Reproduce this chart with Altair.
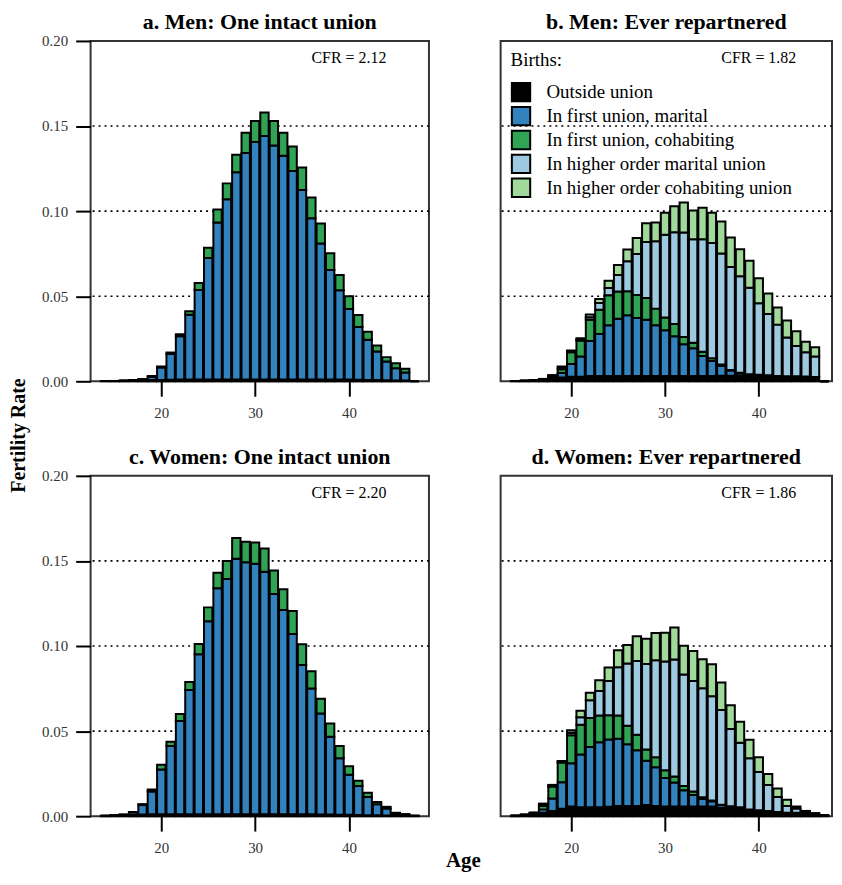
import altair as alt
import pandas as pd

SERIF = "Liberation Serif"

ages = list(range(14, 48))
categories = [
    "Outside union",
    "In first union, marital",
    "In first union, cohabiting",
    "In higher order marital union",
    "In higher order cohabiting union",
]
colors = ["#000000", "#3182bd", "#31a354", "#9ecae1", "#a1d99b"]
panel_titles = [
    "a. Men: One intact union",
    "b. Men: Ever repartnered",
    "c. Women: One intact union",
    "d. Women: Ever repartnered",
]
cfr_labels = ["CFR = 2.12", "CFR = 1.82", "CFR = 2.20", "CFR = 1.86"]
y_ticks = [0.0, 0.05, 0.10, 0.15, 0.20]
grid_levels = [0.05, 0.10, 0.15]
x_ticks = [20, 30, 40]

# ---- a. Men: one intact union (ages 14..47)
men_intact_outside = [0.0001, 0.0002, 0.0003, 0.0004, 0.0005, 0.0007, 0.0008, 0.0009, 0.001, 0.001,
                      0.001, 0.001, 0.001, 0.001, 0.001, 0.001, 0.001, 0.001, 0.001, 0.001,
                      0.001, 0.001, 0.001, 0.001, 0.001, 0.001, 0.001, 0.0009, 0.0008, 0.0007,
                      0.0006, 0.0005, 0.0005, 0.0]
men_intact_first_marital = [0.0, 0.0, 0.0001, 0.0003, 0.0006, 0.002, 0.0073, 0.0152, 0.0254, 0.0381,
                            0.0527, 0.0715, 0.0923, 0.106, 0.1219, 0.1331, 0.1396, 0.1431, 0.1376, 0.1316,
                            0.1226, 0.1114, 0.0948, 0.0799, 0.0644, 0.0525, 0.0415, 0.031, 0.0236, 0.0168,
                            0.011, 0.0071, 0.0046, 0.0]
men_intact_first_cohab = [0.0, 0.0, 0.0, 0.0001, 0.0002, 0.0004, 0.0006, 0.0008, 0.0012, 0.002,
                          0.004, 0.006, 0.0077, 0.0093, 0.0102, 0.012, 0.0124, 0.0138, 0.0144, 0.0134,
                          0.0144, 0.0132, 0.0122, 0.0118, 0.0098, 0.0089, 0.0075, 0.0071, 0.0047, 0.0035,
                          0.0026, 0.003, 0.0022, 0.0]

# ---- b. Men: ever repartnered
men_rep_outside = [0.0001, 0.0003, 0.0006, 0.001, 0.002, 0.0022, 0.0027, 0.0027, 0.0031, 0.0031,
                   0.0031, 0.0031, 0.0031, 0.0031, 0.0031, 0.0031, 0.0031, 0.0031, 0.0031, 0.0031,
                   0.0031, 0.0031, 0.0033, 0.0033, 0.0035, 0.0035, 0.0035, 0.0033, 0.003, 0.003,
                   0.003, 0.0028, 0.0025, 0.0]
men_rep_first_marital = [0.0, 0.0, 0.0001, 0.0002, 0.0007, 0.0027, 0.0075, 0.0118, 0.0206, 0.0247,
                         0.0298, 0.0337, 0.0357, 0.0341, 0.0331, 0.0298, 0.0269, 0.0233, 0.0186, 0.0163,
                         0.0118, 0.0088, 0.0057, 0.003, 0.0015, 0.0007, 0.0004, 0.0002, 0.0001, 0.0,
                         0.0, 0.0, 0.0, 0.0]
men_rep_first_cohab = [0.0, 0.0, 0.0001, 0.0002, 0.0005, 0.0022, 0.0069, 0.0094, 0.0125, 0.0143,
                       0.0176, 0.016, 0.0141, 0.0135, 0.0127, 0.0098, 0.0075, 0.0073, 0.0043, 0.0033,
                       0.0025, 0.0016, 0.0008, 0.0003, 0.0, 0.0, 0.0, 0.0, 0.0, 0.0,
                       0.0, 0.0, 0.0, 0.0]
men_rep_higher_marital = [0.0, 0.0, 0.0, 0.0, 0.0002, 0.001, 0.0005, 0.0007, 0.0015, 0.0039,
                          0.0043, 0.0096, 0.0176, 0.0241, 0.033, 0.0396, 0.0486, 0.0539, 0.0614, 0.0608,
                          0.066, 0.0677, 0.0653, 0.0606, 0.0567, 0.0508, 0.042, 0.0361, 0.0302, 0.0227,
                          0.0178, 0.0143, 0.012, 0.0]
men_rep_higher_cohab = [0.0, 0.0, 0.0, 0.0, 0.0002, 0.0006, 0.0005, 0.0007, 0.0015, 0.0024,
                        0.0043, 0.0059, 0.0069, 0.0094, 0.011, 0.011, 0.0129, 0.0153, 0.0176, 0.0169,
                        0.0186, 0.0178, 0.0188, 0.0173, 0.0159, 0.0159, 0.0147, 0.012, 0.01, 0.01,
                        0.0086, 0.0061, 0.0055, 0.0]

# ---- c. Women: one intact union
women_intact_outside = [0.0002, 0.0005, 0.0006, 0.0008, 0.001, 0.0012, 0.0012, 0.0012, 0.0012, 0.0012,
                        0.0012, 0.0012, 0.0012, 0.0012, 0.0012, 0.0012, 0.0012, 0.0012, 0.0012, 0.0012,
                        0.0012, 0.0012, 0.0011, 0.001, 0.001, 0.0009, 0.0008, 0.0007, 0.0006, 0.0005,
                        0.0004, 0.0003, 0.0003, 0.0002]
women_intact_first_marital = [0.0, 0.0001, 0.0003, 0.0015, 0.0055, 0.0133, 0.0263, 0.04, 0.0548, 0.0729,
                              0.094, 0.1133, 0.1327, 0.1382, 0.1501, 0.148, 0.1471, 0.1424, 0.1294, 0.12,
                              0.1059, 0.0876, 0.074, 0.0594, 0.0457, 0.0332, 0.0235, 0.017, 0.0107, 0.0065,
                              0.0041, 0.0012, 0.0007, 0.0001]
women_intact_first_cohab = [0.0, 0.0, 0.0001, 0.0002, 0.0006, 0.0012, 0.0027, 0.0025, 0.004, 0.0047,
                            0.006, 0.0082, 0.0092, 0.0106, 0.0122, 0.012, 0.0125, 0.0137, 0.0137, 0.0121,
                            0.0135, 0.0122, 0.01, 0.0086, 0.0078, 0.0071, 0.0051, 0.0031, 0.0024, 0.0014,
                            0.001, 0.0005, 0.0002, 0.0]

# ---- d. Women: ever repartnered
women_rep_outside = [0.0003, 0.0008, 0.0015, 0.002, 0.003, 0.0043, 0.0057, 0.0053, 0.0053, 0.0053,
                     0.0055, 0.006, 0.006, 0.006, 0.0066, 0.006, 0.0057, 0.0057, 0.0057, 0.0057,
                     0.0057, 0.0057, 0.005, 0.005, 0.005, 0.004, 0.0035, 0.003, 0.0025, 0.002,
                     0.002, 0.002, 0.0012, 0.0005]
women_rep_first_marital = [0.0, 0.0, 0.0003, 0.002, 0.0074, 0.0156, 0.0254, 0.031, 0.0354, 0.0381,
                           0.0395, 0.0395, 0.0363, 0.0328, 0.026, 0.0227, 0.0168, 0.0141, 0.0096, 0.0068,
                           0.0045, 0.003, 0.0015, 0.0008, 0.0003, 0.0, 0.0, 0.0, 0.0, 0.0,
                           0.0, 0.0, 0.0, 0.0]
women_rep_first_cohab = [0.0, 0.0, 0.0002, 0.002, 0.007, 0.0117, 0.0164, 0.0174, 0.017, 0.0158,
                         0.0143, 0.0137, 0.0109, 0.009, 0.0066, 0.0059, 0.0045, 0.0035, 0.0025, 0.002,
                         0.001, 0.0005, 0.0002, 0.0, 0.0, 0.0, 0.0, 0.0, 0.0, 0.0,
                         0.0, 0.0, 0.0, 0.0]
women_rep_higher_marital = [0.0, 0.0, 0.0, 0.0007, 0.0005, 0.0004, 0.0015, 0.0045, 0.0104, 0.0143,
                            0.0201, 0.0283, 0.0365, 0.0434, 0.0502, 0.057, 0.0639, 0.0688, 0.0654, 0.065,
                            0.064, 0.0613, 0.0557, 0.0455, 0.0379, 0.03, 0.0225, 0.0153, 0.0088, 0.004,
                            0.0025, 0.0008, 0.0004, 0.0]
women_rep_higher_cohab = [0.0, 0.0, 0.0, 0.0007, 0.0005, 0.0004, 0.0015, 0.0037, 0.0045, 0.0064,
                          0.008, 0.01, 0.0109, 0.0146, 0.0148, 0.016, 0.0169, 0.0188, 0.0169, 0.0176,
                          0.017, 0.0188, 0.0162, 0.0139, 0.0123, 0.0109, 0.0086, 0.0065, 0.005, 0.0036,
                          0.0012, 0.0003, 0.0002, 0.0]


def long_frame(components):
    rows = []
    for cat, vals in components:
        for age, v in zip(ages, vals):
            rows.append({"age": age, "category": cat, "value": v,
                         "ord": categories.index(cat)})
    return pd.DataFrame(rows)


frames = [
    long_frame([(categories[0], men_intact_outside),
                (categories[1], men_intact_first_marital),
                (categories[2], men_intact_first_cohab)]),
    long_frame([(categories[0], men_rep_outside),
                (categories[1], men_rep_first_marital),
                (categories[2], men_rep_first_cohab),
                (categories[3], men_rep_higher_marital),
                (categories[4], men_rep_higher_cohab)]),
    long_frame([(categories[0], women_intact_outside),
                (categories[1], women_intact_first_marital),
                (categories[2], women_intact_first_cohab)]),
    long_frame([(categories[0], women_rep_outside),
                (categories[1], women_rep_first_marital),
                (categories[2], women_rep_first_cohab),
                (categories[3], women_rep_higher_marital),
                (categories[4], women_rep_higher_cohab)]),
]


def make_panel(i):
    left = i in (0, 2)
    width = 340 if left else 333
    xmax = 48 if left else 47.28
    xscale = alt.Scale(domain=[13, xmax], nice=False, zero=False)
    yscale = alt.Scale(domain=[0, 0.2], nice=False, zero=True)

    x_kwargs = dict(values=x_ticks, tickSize=15, tickWidth=2, tickColor="black",
                    domain=False, grid=False, labelFont=SERIF, labelFontSize=15,
                    labelColor="#333333", labelPadding=9)
    x_title = None
    if i == 2:
        x_title = "Age"
        x_kwargs.update(titleX=374, titleY=45, titleAlign="center", titleBaseline="middle",
                        titleFont=SERIF, titleFontSize=21, titleFontWeight="bold",
                        titleColor="black")
    xaxis = alt.Axis(**x_kwargs)

    y_title = None
    y_kwargs = dict(values=y_ticks, format=".2f", tickSize=15, tickWidth=2,
                    tickColor="black", domain=False, grid=False, labelFont=SERIF,
                    labelFontSize=15, labelColor="#333333", labelPadding=8)
    if not left:
        # same label extent as the left panels (keeps titles level), but invisible
        y_kwargs.update(ticks=False, labelColor="white")
    if i == 0:
        y_title = "Fertility Rate"
        y_kwargs.update(titleX=-72, titleY=396, titleAngle=270, titleAlign="center",
                        titleBaseline="middle", titleFont=SERIF, titleFontSize=20,
                        titleFontWeight="bold", titleColor="black")
    yaxis = alt.Axis(**y_kwargs)

    if i == 1:
        legend = alt.Legend(title="Births:", orient="top-left", offset=10, padding=0,
                            titleFont=SERIF, titleFontSize=19, titleFontWeight="normal",
                            titleColor="black", titlePadding=12, labelFont=SERIF,
                            labelFontSize=19, labelColor="black", labelLimit=400,
                            labelOffset=15, symbolType="square", symbolSize=340,
                            symbolStrokeColor="black", symbolStrokeWidth=2,
                            symbolOpacity=1, rowPadding=-5)
    else:
        legend = None

    grid = alt.Chart(pd.DataFrame({"level": grid_levels})).mark_rule(
        color="black", strokeWidth=1.6, strokeDash=[2, 4]
    ).encode(
        y=alt.Y("level:Q", scale=yscale, axis=yaxis, title=y_title),
    )

    bars = alt.Chart(frames[i]).mark_bar(
        size=8.4, stroke="black", strokeWidth=2, opacity=1
    ).encode(
        x=alt.X("age:Q", scale=xscale, axis=xaxis, title=x_title),
        y=alt.Y("value:Q", stack="zero", scale=yscale, axis=yaxis, title=y_title),
        color=alt.Color("category:N", scale=alt.Scale(domain=categories, range=colors),
                        legend=legend),
        order=alt.Order("ord:Q", sort="ascending"),
    )

    label = alt.Chart(pd.DataFrame({"label": [cfr_labels[i]]})).mark_text(
        font=SERIF, fontSize=16, color="black", align="center", baseline="middle"
    ).encode(
        x=alt.X(datum=40, type="quantitative", scale=xscale, axis=xaxis, title=x_title),
        y=alt.Y(datum=0.19, type="quantitative", scale=yscale, axis=yaxis, title=y_title),
        text="label:N",
    )

    return alt.layer(grid, bars, label).properties(
        width=width,
        height=342,
        title=alt.TitleParams(panel_titles[i], font=SERIF, fontSize=22, fontWeight="bold",
                              color="black", offset=0, anchor="middle", frame="group"),
    )


chart = alt.concat(
    *[make_panel(i) for i in range(4)],
    columns=2,
    spacing={"row": 95, "column": 72},
    bounds="flush",
).resolve_scale(color="independent").properties(
    padding=0, background="white"
).configure_view(
    stroke="#333333", strokeWidth=2
)

chart.save("out.html", embed_options={"renderer": "svg", "actions": False})
